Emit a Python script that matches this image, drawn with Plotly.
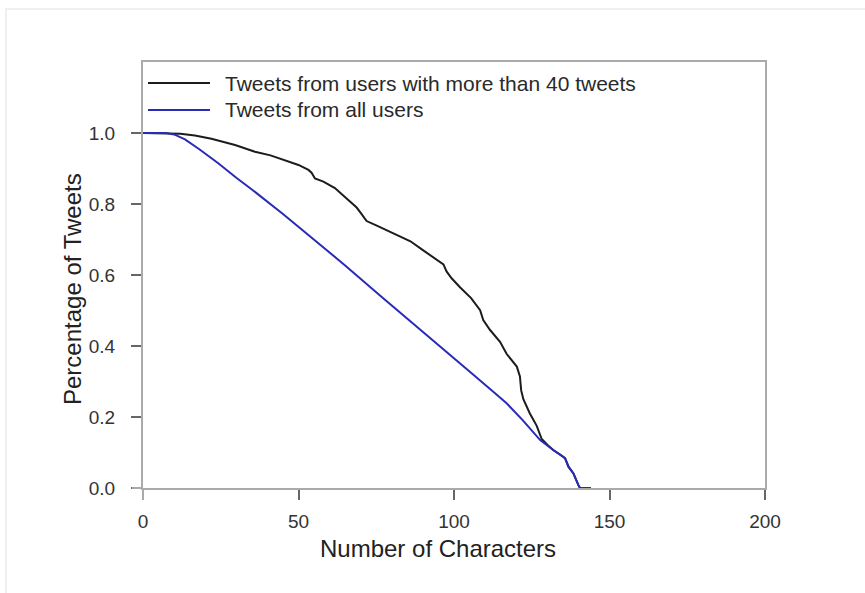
import plotly.graph_objects as go

# Survival-style curves: share of tweets longer than a given number of characters
heavy_chars = [0, 8, 12, 16.7, 22, 29.6, 36, 41, 45.7, 50, 53.2, 54.2, 55.3, 58, 61.7,
               65, 68.7, 70, 71.9, 75, 78, 81.5, 86, 90, 94, 96.6, 97.6, 99.3, 102,
               105.5, 108.4, 109.4, 111.6, 114.8, 116.9, 118.5, 120.2, 121.2, 121.6,
               122.3, 124.4, 126.6, 128.2, 130, 131.9, 134, 135.7, 136.8, 138.4, 140,
               140.5, 144]
heavy_share = [1.0, 1.0, 0.998, 0.993, 0.984, 0.966, 0.947, 0.937, 0.924, 0.910, 0.896,
               0.888, 0.872, 0.863, 0.845, 0.820, 0.790, 0.775, 0.752, 0.740, 0.728,
               0.713, 0.695, 0.670, 0.646, 0.630, 0.610, 0.590, 0.565, 0.535, 0.501,
               0.473, 0.445, 0.412, 0.378, 0.360, 0.342, 0.314, 0.275, 0.250, 0.210,
               0.175, 0.138, 0.122, 0.107, 0.095, 0.084, 0.060, 0.041, 0.008, 0.0, 0.0]

all_chars = [0, 7.5, 10, 13.5, 18, 24.2, 30, 35, 45, 55, 65, 76.2, 86, 95.5, 105,
             113.2, 117, 122, 127.7, 131.9, 134, 135.7, 136.8, 138.4, 140, 140.5, 144]
all_share = [1.0, 1.0, 0.996, 0.982, 0.955, 0.915, 0.874, 0.841, 0.772, 0.700, 0.627,
             0.542, 0.470, 0.398, 0.328, 0.267, 0.238, 0.192, 0.135, 0.107, 0.095,
             0.084, 0.060, 0.041, 0.008, 0.0, 0.0]

series_names = ["Tweets from users with more than 40 tweets", "Tweets from all users"]
series_colors = ["#1c1c1c", "#2a2ab8"]

x_ticks = [0, 50, 100, 150, 200]
y_ticks = [0.0, 0.2, 0.4, 0.6, 0.8, 1.0]

W, H = 865, 593
L, R, T, B = 143, 765, 62, 488  # plot area in pixels


def px(x):
    return (x - L) / (R - L)


def py(y):
    return (B - y) / (B - T)


fig = go.Figure()
fig.add_trace(go.Scatter(x=heavy_chars, y=heavy_share, mode="lines",
                         line=dict(color=series_colors[0], width=2),
                         name=series_names[0], showlegend=False))
fig.add_trace(go.Scatter(x=all_chars, y=all_share, mode="lines",
                         line=dict(color=series_colors[1], width=2),
                         name=series_names[1], showlegend=False))

frame = "#aaaaaa"
family = "Liberation Sans, Arial, sans-serif"
tick_font = dict(family=family, size=19, color="#333333")

fig.update_xaxes(range=[0, 200], tickvals=x_ticks, ticks="outside", ticklen=10,
                 tickwidth=1.5, tickcolor="#666666", showgrid=False, zeroline=False,
                 showline=True, linecolor=frame, linewidth=2, mirror=True,
                 tickfont=tick_font, ticklabelstandoff=5)
fig.update_yaxes(range=[0, 1.2], tickvals=y_ticks, tickformat=".1f", ticks="outside",
                 ticklen=10, tickwidth=1.5, tickcolor="#666666", showgrid=False,
                 zeroline=False, showline=True, linecolor=frame, linewidth=2,
                 mirror=True, tickfont=tick_font, ticklabelstandoff=12)

shapes = [
    # faint outer border of the figure
    dict(type="rect", xref="paper", yref="paper", x0=px(6), x1=px(866), y0=py(594),
         y1=py(9), line=dict(color="#ebebeb", width=1.5), layer="below"),
    # axis lines reaching slightly past the corner
    dict(type="line", xref="paper", yref="paper", x0=px(132), x1=px(143), y0=0, y1=0,
         line=dict(color=frame, width=2)),
    dict(type="line", xref="paper", yref="paper", x0=0, x1=0, y0=py(500), y1=0,
         line=dict(color=frame, width=2)),
]
annotations = []
legend_rows = [83, 110]
for name, color, row in zip(series_names, series_colors, legend_rows):
    shapes.append(dict(type="line", xref="paper", yref="paper", x0=px(148), x1=px(210),
                       y0=py(row), y1=py(row), line=dict(color=color, width=2)))
    annotations.append(dict(xref="paper", yref="paper", x=px(223), y=py(row), text=name,
                            showarrow=False, xanchor="left", yanchor="middle",
                            font=dict(family=family, size=21, color="#2a2a2a")))

title_font = dict(family=family, size=24, color="#222222")
annotations.append(dict(xref="paper", yref="paper", x=px(438), y=py(548),
                        text="Number of Characters", showarrow=False, xanchor="center",
                        yanchor="middle", font=title_font))
annotations.append(dict(xref="paper", yref="paper", x=px(72), y=py(289),
                        text="Percentage of Tweets", showarrow=False, xanchor="center",
                        yanchor="middle", textangle=-90, font=title_font))

fig.update_layout(width=W, height=H, margin=dict(l=L, r=W - R, t=T, b=H - B),
                  paper_bgcolor="white", plot_bgcolor="white",
                  shapes=shapes, annotations=annotations)

fig.write_html("out.html")
